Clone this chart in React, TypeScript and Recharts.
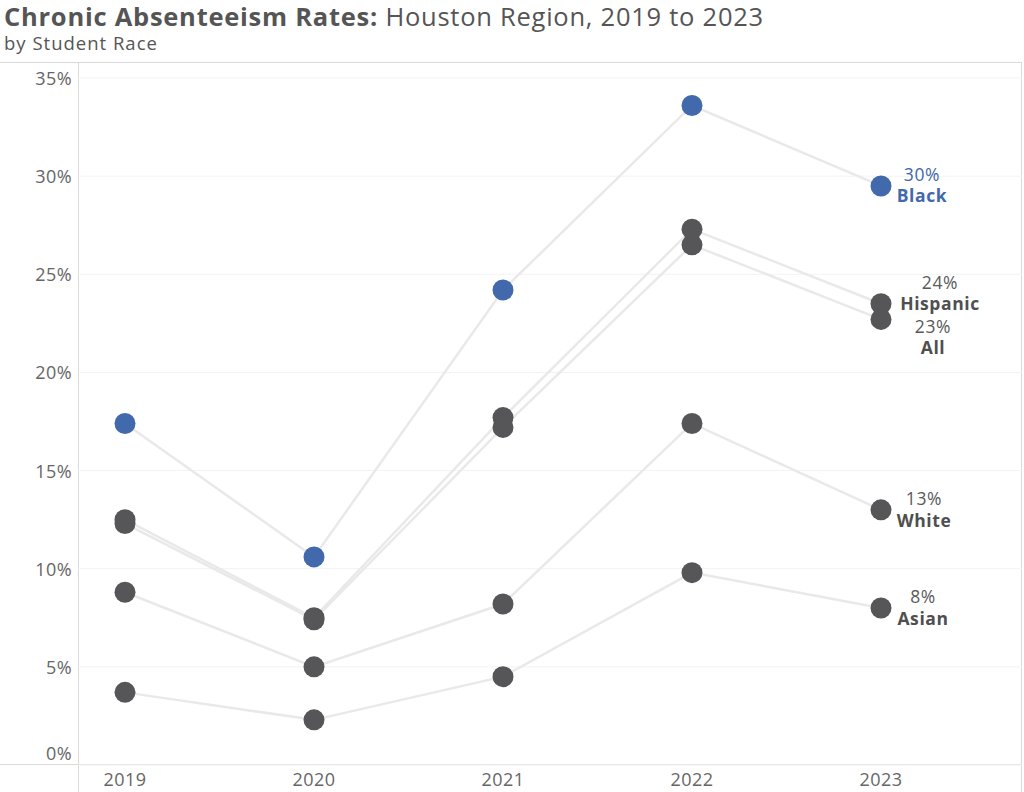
import React from "react";
import { LineChart, Line, XAxis, YAxis, CartesianGrid } from "recharts";

const YEARS = ["2019", "2020", "2021", "2022", "2023"];
const BLACK = [17.4, 10.6, 24.2, 33.6, 29.5];
const HISPANIC = [12.5, 7.5, 17.7, 27.3, 23.5];
const ALL = [12.3, 7.4, 17.2, 26.5, 22.7];
const WHITE = [8.8, 5.0, 8.2, 17.4, 13.0];
const ASIAN = [3.7, 2.3, 4.5, 9.8, 8.0];
const Y_TICKS = [0, 5, 10, 15, 20, 25, 30, 35];

const FONT = "'Open Sans', Lato, sans-serif";
const BLUE = "#4169ab";
const DARK = "#565658";
const LINE = "#e9e9e9";
const FRAME = "#d9d9d9";

// label offsets next to the 2023 dot (dx = text centre, dv = value line, dn = name line)
const SERIES = [
  { key: "black", name: "Black", values: BLACK, color: BLUE, dx: 41, dv: -12, dn: 9 },
  { key: "hispanic", name: "Hispanic", values: HISPANIC, color: DARK, dx: 59, dv: -22, dn: -1 },
  { key: "all", name: "All", values: ALL, color: DARK, dx: 52, dv: 7, dn: 28 },
  { key: "white", name: "White", values: WHITE, color: DARK, dx: 43, dv: -12, dn: 10 },
  { key: "asian", name: "Asian", values: ASIAN, color: DARK, dx: 42, dv: -12, dn: 10 },
];

const data = YEARS.map((year, i) => {
  const row: any = { year };
  SERIES.forEach((s) => {
    row[s.key] = s.values[i];
  });
  return row;
});

function makeDot(s: (typeof SERIES)[number]) {
  return (props: any) => {
    const { cx, cy, index } = props;
    const last = index === YEARS.length - 1;
    const valueColor = s.color === BLUE ? BLUE : "#5a5a5a";
    return (
      <g key={`dot-${s.key}-${index}`}>
        <circle cx={cx} cy={cy} r={10.5} fill={s.color} />
        {last && (
          <g fontFamily={FONT} fontSize={17.5} letterSpacing={0.6} textAnchor="middle" dominantBaseline="central">
            <text x={cx + s.dx} y={cy + s.dv} fill={valueColor}>
              {Math.round(s.values[index])}%
            </text>
            <text x={cx + s.dx} y={cy + s.dn} fill={s.color === BLUE ? BLUE : "#4f4f4f"} fontWeight={700}>
              {s.name}
            </text>
          </g>
        )}
      </g>
    );
  };
}

const YTick = (props: any) => {
  const { x, y, payload } = props;
  const shift = payload.value === 0 ? -12 : 0;
  return (
    <text x={x} y={y + shift} textAnchor="end" dominantBaseline="central" fill="#666" fontFamily={FONT} fontSize={18} letterSpacing={0.4}>
      {payload.value}%
    </text>
  );
};

const XTick = (props: any) => {
  const { x, y, payload } = props;
  return (
    <text x={x} y={y + 14} textAnchor="middle" dominantBaseline="central" fill="#666" fontFamily={FONT} fontSize={18} letterSpacing={0.4}>
      {payload.value}
    </text>
  );
};

export default function App() {
  const hLine = (top: number) => ({
    position: "absolute" as const, left: 0, top, width: 1022, height: 1, background: FRAME,
  });
  const vLine = (left: number) => ({
    position: "absolute" as const, left, top: 62, width: 1, height: 730, background: FRAME,
  });
  return (
    <div style={{ position: "absolute", left: 0, top: 0, width: 1024, height: 792, background: "#fff", fontFamily: FONT, overflow: "hidden" }}>
      <div style={{ position: "absolute", left: 4, top: 1, fontSize: 25.5, lineHeight: "30px", color: "#555", whiteSpace: "nowrap", letterSpacing: 0.75 }}>
        <span style={{ fontWeight: 700 }}>Chronic Absenteeism Rates:</span> Houston Region, 2019 to 2023
      </div>
      <div style={{ position: "absolute", left: 4, top: 31, fontSize: 18.5, lineHeight: "24px", color: "#555", whiteSpace: "nowrap", letterSpacing: 1 }}>
        by Student Race
      </div>
      <div style={hLine(62)} />
      <div style={hLine(764)} />
      <div style={vLine(78)} />
      <div style={vLine(1021)} />
      <div style={{ position: "absolute", left: 0, top: 0 }}>
        <LineChart width={1024} height={792} data={data} margin={{ top: 78, right: 2, bottom: 0, left: 0 }}>
          <CartesianGrid vertical={false} stroke="#f3f3f3" />
          <XAxis
            dataKey="year"
            height={27}
            padding={{ left: 47, right: 141 }}
            axisLine={false}
            tickLine={false}
            tickSize={0}
            tickMargin={0}
            tick={<XTick />}
            interval={0}
          />
          <YAxis
            width={78}
            domain={[0, 35]}
            ticks={Y_TICKS}
            axisLine={false}
            tickLine={false}
            tickSize={6}
            tickMargin={0}
            tick={<YTick />}
            interval={0}
          />
          {SERIES.map((s) => (
            <Line
              key={`line-${s.key}`}
              dataKey={s.key}
              stroke={LINE}
              strokeWidth={2.5}
              dot={false}
              activeDot={false}
              isAnimationActive={false}
            />
          ))}
          {SERIES.map((s) => (
            <Line
              key={`dots-${s.key}`}
              dataKey={s.key}
              stroke="none"
              dot={makeDot(s)}
              activeDot={false}
              isAnimationActive={false}
            />
          ))}
        </LineChart>
      </div>
    </div>
  );
}
